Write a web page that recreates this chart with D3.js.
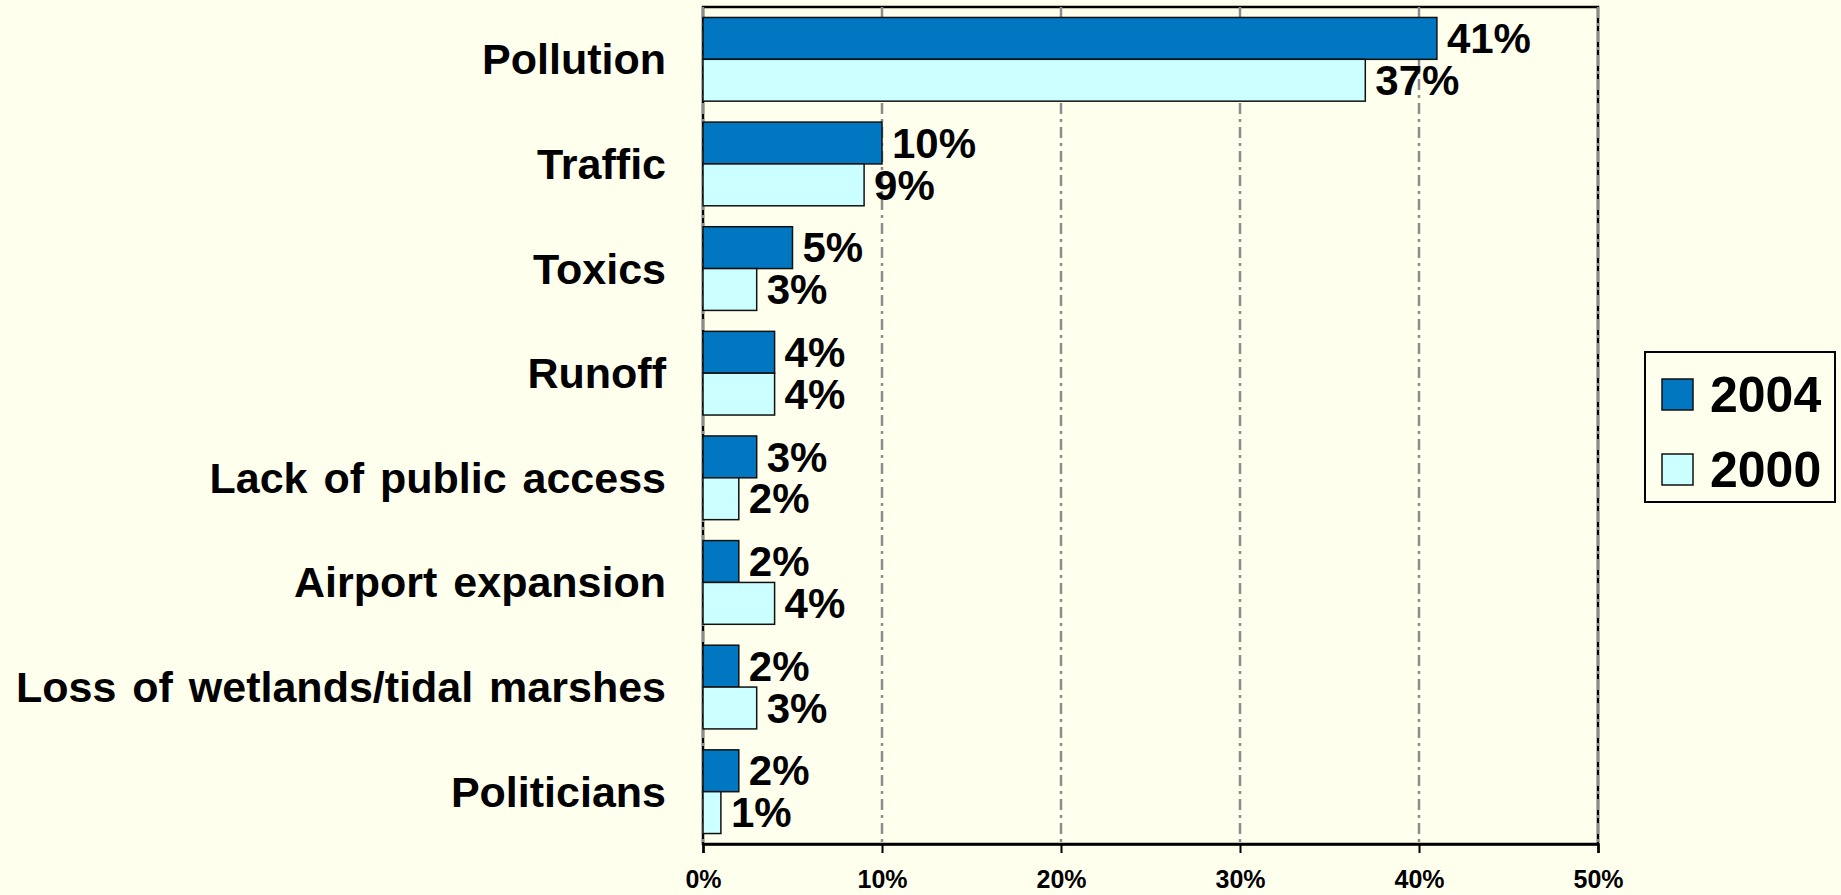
<!DOCTYPE html>
<html>
<head>
<meta charset="utf-8">
<script src="https://cdn.jsdelivr.net/npm/d3@7"></script>
<style>
  html, body { margin: 0; padding: 0; background: #ffffee; }
  svg { display: block; }
  text { font-family: Arial, 'Liberation Sans', sans-serif; font-weight: bold; fill: #000; }
</style>
</head>
<body>
<div id="chart"></div>
<script>
// data
var categories = ['Pollution', 'Traffic', 'Toxics', 'Runoff', 'Lack of public access',
  'Airport expansion', 'Loss of wetlands/tidal marshes', 'Politicians'];
var series = ['2004', '2000'];
var values2004 = [41, 10, 5, 4, 3, 2, 2, 2];
var values2000 = [37, 9, 3, 4, 2, 4, 3, 1];
var xTicks = [0, 10, 20, 30, 40, 50];

var colors = { '2004': '#0077c0', '2000': '#ccffff' };

var W = 1841, H = 895;
var margin = { top: 7, left: 703, right: 243, bottom: 51 };
var plotW = W - margin.left - margin.right,
  plotH = H - margin.top - margin.bottom;

var rows = categories.map(function(c, i) {
  return { name: c, '2004': values2004[i], '2000': values2000[i] };
});

var svg = d3.select('#chart')
  .append('svg')
  .attr('width', W)
  .attr('height', H);

svg.append('rect')
  .attr('width', W)
  .attr('height', H)
  .attr('fill', '#ffffee');

var x = d3.scaleLinear().domain([0, 50]).range([0, plotW]);
var y = d3.scaleBand().domain(categories).range([0, plotH])
  .paddingInner(0.2).paddingOuter(0.1);
var ySub = d3.scaleBand().domain(series).range([0, y.bandwidth()]);

var g = svg.append('g')
  .attr('transform', 'translate(' + margin.left + ',' + margin.top + ')');

// plot area border (black), gridlines are drawn over it
g.append('rect')
  .attr('width', plotW)
  .attr('height', plotH)
  .attr('fill', 'none')
  .attr('stroke', '#000')
  .attr('stroke-width', 2.5);

g.selectAll('line.grid')
  .data(xTicks)
  .enter()
  .append('line')
  .attr('class', 'grid')
  .attr('x1', function(d) { return x(d); })
  .attr('x2', function(d) { return x(d); })
  .attr('y1', 0)
  .attr('y2', plotH)
  .attr('stroke', '#8c8c8c')
  .attr('stroke-width', 2.5)
  .attr('stroke-dasharray', '11,5,3,5');

// bottom axis
var xAxis = d3.axisBottom(x)
  .tickValues(xTicks)
  .tickSize(9)
  .tickPadding(17)
  .tickFormat(function(d) { return d + '%'; });

var axisG = g.append('g')
  .attr('transform', 'translate(0,' + plotH + ')')
  .call(xAxis);
axisG.select('.domain').attr('stroke', '#000').attr('stroke-width', 2.5);
axisG.selectAll('.tick line').attr('stroke', '#000').attr('stroke-width', 2);
axisG.selectAll('.tick text')
  .style('font-size', '25px')
  .style('font-family', 'Arial, Liberation Sans, sans-serif')
  .style('font-weight', 'bold')
  .attr('fill', '#000');

// bars
var groups = g.selectAll('g.cat')
  .data(rows)
  .enter()
  .append('g')
  .attr('class', 'cat')
  .attr('transform', function(d) { return 'translate(0,' + y(d.name) + ')'; });

groups.selectAll('rect')
  .data(function(d) {
    return series.map(function(s) { return { key: s, value: d[s] }; });
  })
  .enter()
  .append('rect')
  .attr('x', 0)
  .attr('y', function(d) { return ySub(d.key); })
  .attr('width', function(d) { return x(d.value); })
  .attr('height', ySub.bandwidth())
  .attr('fill', function(d) { return colors[d.key]; })
  .attr('stroke', '#111')
  .attr('stroke-width', 1.5);

// value labels
groups.selectAll('text.val')
  .data(function(d) {
    return series.map(function(s) { return { key: s, value: d[s] }; });
  })
  .enter()
  .append('text')
  .attr('class', 'val')
  .attr('x', function(d) { return x(d.value) + 10; })
  .attr('y', function(d) { return ySub(d.key) + ySub.bandwidth() / 2; })
  .attr('dy', '0.35em')
  .style('font-size', '42px')
  .text(function(d) { return d.value + '%'; });

// category labels
svg.selectAll('text.cat')
  .data(categories)
  .enter()
  .append('text')
  .attr('class', 'cat')
  .attr('x', 666)
  .attr('y', function(d) { return margin.top + y(d) + y.bandwidth() / 2; })
  .attr('dy', '0.35em')
  .attr('text-anchor', 'end')
  .style('font-size', '43px')
  .style('word-spacing', '4px')
  .text(function(d) { return d; });

// legend
var legend = svg.append('g')
  .attr('transform', 'translate(1645,352)');

legend.append('rect')
  .attr('width', 190)
  .attr('height', 150)
  .attr('fill', '#ffffee')
  .attr('stroke', '#000')
  .attr('stroke-width', 2);

var item = legend.selectAll('g.item')
  .data(series)
  .enter()
  .append('g')
  .attr('class', 'item')
  .attr('transform', function(d, i) { return 'translate(17,' + (27 + i * 75) + ')'; });

item.append('rect')
  .attr('width', 31)
  .attr('height', 31)
  .attr('fill', function(d) { return colors[d]; })
  .attr('stroke', '#111')
  .attr('stroke-width', 1.5);

item.append('text')
  .attr('x', 48)
  .attr('y', 15.5)
  .attr('dy', '0.35em')
  .style('font-size', '50px')
  .text(function(d) { return d; });
</script>
</body>
</html>
